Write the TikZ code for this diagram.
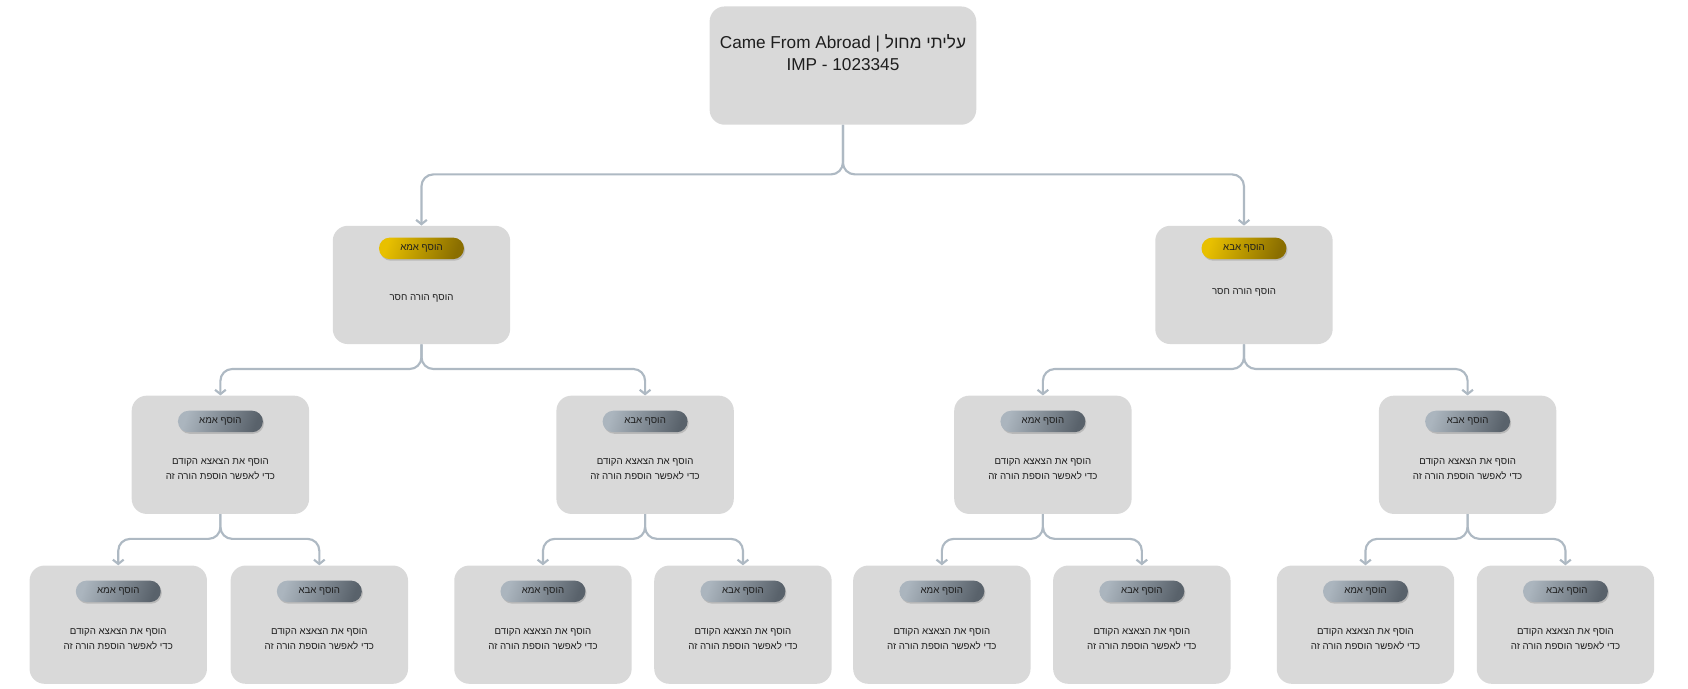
\documentclass[tikz,border=0pt]{standalone}
\usepackage{fontspec}
\setmainfont{Liberation Sans}
\newfontfamily\hebfont[Script=Hebrew]{Liberation Sans}
\TeXXeTstate=1
\usepackage{xcolor}
\usepackage{tikz}
\usetikzlibrary{calc}
\usetikzlibrary{positioning}
\usetikzlibrary{shadows}
\usetikzlibrary{arrows.meta}

\definecolor{boxgray}{HTML}{D9D9D9}
\definecolor{linkgray}{HTML}{AEB9C3}
\definecolor{pillY1}{HTML}{E8C000}
\definecolor{pillY2}{HTML}{8A6E00}
\definecolor{pillG1}{HTML}{ABB5BE}
\definecolor{pillG2}{HTML}{59626B}
\definecolor{txt}{HTML}{1E1E1E}

\tikzset{
	box/.style={rectangle,rounded corners=14pt,fill=boxgray,minimum width=165pt,minimum height=110pt,inner sep=0pt},
	pill/.style={rectangle,rounded corners=10pt,minimum width=79pt,minimum height=20pt,inner sep=0pt,
		drop shadow={shadow xshift=1pt,shadow yshift=-1.5pt,opacity=.35},
		font=\hebfont\fontsize{9}{11}\selectfont,text=txt},
	pillyellow/.style={pill,left color=pillY1,right color=pillY2,shading angle=70},
	pillgray/.style={pill,left color=pillG1,right color=pillG2,shading angle=70},
	note/.style={align=center,inner sep=0pt,font=\hebfont\fontsize{9}{14}\selectfont,text=txt},
	link/.style={draw=linkgray,line width=2pt,rounded corners=11pt,-{Straight Barb[length=4pt,width=10pt]}}
}

\begin{document}
\begin{tikzpicture}[x=1pt,y=-1pt]
	\useasboundingbox (0,0) rectangle (1570,640);
	% boxes
	\node[box,minimum width=248pt] (r) at (784,61) {};
	\node[align=center,inner sep=0pt,font=\fontsize{16}{21}\selectfont,text=txt] (rt) at (784,49)
		{Came From Abroad | {\hebfont\beginR עליתי מחול\endR}\\IMP - 1023345};
	\foreach \x/\alph in {392/a1,1157/a2}{
		\node[box] (\alph) at (\x,265) {};
	}
	\foreach \x/\alph in {205/b1,600/b2,970/b3,1365/b4}{
		\node[box] (\alph) at (\x,423) {};
	}
	\foreach \x/\alph in {110/c1,297/c2,505/c3,691/c4,876/c5,1062/c6,1270/c7,1456/c8}{
		\node[box] (\alph) at (\x,581) {};
	}
	% links
	\foreach \from/\to/\dy in {
			r/a1/46,r/a2/46,
			a1/b1/23,a1/b2/23,a2/b3/23,a2/b4/23,
			b1/c1/23,b1/c2/23,b2/c3/23,b2/c4/23,
			b3/c5/23,b3/c6/23,b4/c7/23,b4/c8/23
	}{
		\draw[link] (\from.south) -- ++(0,\dy) -| (\to.north);
	}
	% buttons and texts
	\node[pillyellow,below=11pt of a1.north] (a1p) {\beginR הוסף אמא\endR};
	\node[pillyellow,below=11pt of a2.north] (a2p) {\beginR הוסף אבא\endR};
	\node[note] (a1t) at ($(a1.north)+(0,68)$) {\beginR הוסף הורה חסר\endR};
	\node[note] (a2t) at ($(a2.north)+(0,62)$) {\beginR הוסף הורה חסר\endR};
	\foreach \alph/\name in {
			b1/אמא,b2/אבא,b3/אמא,b4/אבא,
			c1/אמא,c2/אבא,c3/אמא,c4/אבא,
			c5/אמא,c6/אבא,c7/אמא,c8/אבא
	}{
		\node[pillgray,below=14pt of \alph.north] (\alph p) {\beginR הוסף \name\endR};
		\node[note] (\alph t) at ($(\alph.north)+(0,69)$)
			{\beginR הוסף את הצאצא הקודם\endR\\\beginR כדי לאפשר הוספת הורה זה\endR};
	}
\end{tikzpicture}
\end{document}
